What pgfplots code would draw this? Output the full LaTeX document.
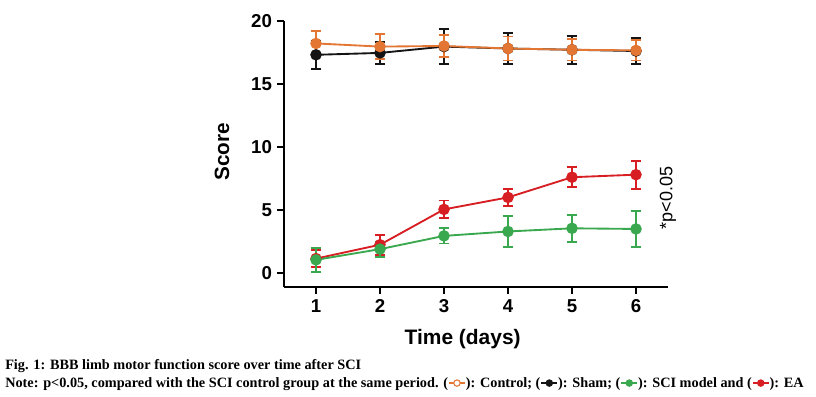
\documentclass[border=0pt]{standalone}
\usepackage{fontspec}
\setmainfont{Liberation Serif}
\newfontfamily\arial{Liberation Sans}
\usepackage{pgfplots}
\pgfplotsset{compat=1.18}
\definecolor{cctrl}{RGB}{228,118,52}
\definecolor{csham}{RGB}{20,20,20}
\definecolor{csci}{RGB}{58,168,78}
\definecolor{cea}{RGB}{215,30,35}
\newcommand{\sym}[2]{\tikz[baseline=-0.6ex]{\draw[#1,line width=1.3pt](0,0)--(12pt,0);\fill[#2,draw=#1,line width=0.8pt](6pt,0) circle (2.4pt);}}
\begin{document}
\begin{tikzpicture}[x=1pt,y=1pt]
\useasboundingbox (0,0) rectangle (612,297);
\begin{axis}[
  at={(213pt,81.75pt)}, anchor=south west,
  scale only axis, width=288pt, height=199.7pt,
  xmin=0.5, xmax=6.5, ymin=-1.1, ymax=20,
  axis x line*=bottom, axis y line*=left,
  axis line style={line width=1.5pt, black, -},
  xtick={1,2,3,4,5,6}, ytick={0,5,10,15,20},
  tick align=outside, major tick length=5pt,
  tick style={line width=1.5pt, black},
  /pgf/number format/assume math mode=true,
  ticklabel style={font=\arial\bfseries\fontsize{14}{16}\selectfont},
  xticklabel style={yshift=-1pt},
  yticklabel style={xshift=-0.5pt},
  clip=false,
  every axis plot/.append style={line width=1.4pt, mark=*, mark size=3.6pt,
     error bars/y dir=both, error bars/y explicit,
     error bars/error mark options={rotate=90, mark size=4pt, line width=1.4pt},
     error bars/error bar style={line width=1.4pt}},
]
\addplot[cea, mark options={fill=cea}] coordinates {
 (1,1.15) +- (0,0.65)
 (2,2.25) +- (0,0.8)
 (3,5.05) +- (0,0.7)
 (4,6.0) +- (0,0.65)
 (5,7.6) +- (0,0.8)
 (6,7.8) +- (0,1.1)
};
\addplot[csci, mark options={fill=csci}] coordinates {
 (1,1.05) +- (0,0.95)
 (2,1.9) +- (0,0.6)
 (3,2.95) +- (0,0.6)
 (4,3.3) +- (0,1.2)
 (5,3.55) +- (0,1.05)
 (6,3.5) +- (0,1.4)
};
\addplot[csham, mark options={fill=csham}] coordinates {
 (1,17.3) +- (0,1.1)
 (2,17.45) +- (0,0.85)
 (3,17.95) +- (0,1.4)
 (4,17.8) +- (0,1.25)
 (5,17.7) +- (0,1.1)
 (6,17.6) +- (0,1.0)
};
\addplot[cctrl, mark options={fill=cctrl}] coordinates {
 (1,18.2) +- (0,1.0)
 (2,17.95) +- (0,1.0)
 (3,18.0) +- (0,0.9)
 (4,17.8) +- (0,0.95)
 (5,17.7) +- (0,0.85)
 (6,17.65) +- (0,0.8)
};
\end{axis}
\node[font=\arial\bfseries\fontsize{15.5}{18}\selectfont, rotate=90] at (166.5,183) {Score};
\node[font=\arial\bfseries\fontsize{15.7}{18}\selectfont] at (347,42.75) {Time (days)};
\node[font=\arial\fontsize{13.5}{16}\selectfont, rotate=90] at (501,148.5) {*p<0.05};
\node[anchor=base west, inner sep=0pt, font=\bfseries\fontsize{10.7}{12}\selectfont] at (3.75,20.25) {Fig. 1: BBB limb motor function score over time after SCI};
\node[anchor=base west, inner sep=0pt, font=\bfseries\fontsize{10.7}{12}\selectfont] at (3.75,6.75) {Note: p<0.05, compared with the SCI control group at the same period. (\sym{cctrl}{white}): Control; (\sym{csham}{csham}): Sham; (\sym{csci}{csci}): SCI model and (\sym{cea}{cea}): EA};
\end{tikzpicture}
\end{document}
